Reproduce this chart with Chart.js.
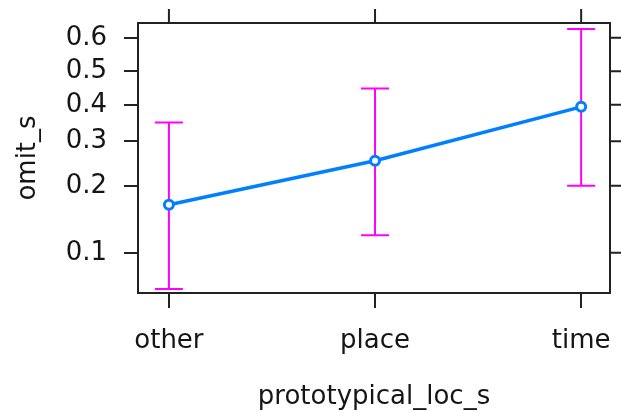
<!DOCTYPE html>
<html>
<head>
<meta charset="utf-8">
<script src="https://cdn.jsdelivr.net/npm/chart.js@4"></script>
<style>
  html, body { margin: 0; padding: 0; background: #fff; }
  #wrap { width: 621px; height: 413px; }
</style>
</head>
<body>
<div id="wrap"><canvas id="myChart" width="621" height="413"></canvas></div>
<script>
// data (logit scale)
const categories = ['other', 'place', 'time'];
const fitValues = [0.166, 0.253, 0.394];
const lowerValues = [0.067, 0.121, 0.200];
const upperValues = [0.350, 0.448, 0.625];
const yTicks = [0.1, 0.2, 0.3, 0.4, 0.5, 0.6];

const logit = p => Math.log(p / (1 - p));
const expit = z => 1 / (1 + Math.exp(-z));

// logit y axis, the way the effects package draws probabilities
class LogitScale extends Chart.LinearScale {
    configure() {
        super.configure();
        this._lo = logit(this.min);
        this._hi = logit(this.max);
    }
    getPixelForValue(v) {
        return this.getPixelForDecimal((logit(v) - this._lo) / (this._hi - this._lo));
    }
    getValueForPixel(px) {
        const d = this.getDecimalForPixel(px);
        return expit(this._lo + d * (this._hi - this._lo));
    }
}
LogitScale.id = 'logit';
LogitScale.defaults = {};
Chart.register(LogitScale);

const inkColor = '#151515';
const fontFam = '"DejaVu Sans", sans-serif';

// box round the panel + ticks on the top and right side (lattice style)
const panelBox = {
    id: 'panelBox',
    afterDraw(chart) {
        const { ctx, chartArea, scales } = chart;
        ctx.save();
        ctx.strokeStyle = '#222';
        ctx.lineWidth = 2;
        ctx.strokeRect(chartArea.left, chartArea.top, chartArea.right - chartArea.left, chartArea.bottom - chartArea.top);
        ctx.beginPath();
        scales.x.ticks.forEach(t => {
            const x = scales.x.getPixelForValue(t.value);
            ctx.moveTo(x, chartArea.top);
            ctx.lineTo(x, chartArea.top - 14);
        });
        scales.y.ticks.forEach(t => {
            const y = scales.y.getPixelForValue(t.value);
            ctx.moveTo(chartArea.right, y);
            ctx.lineTo(chartArea.right + 14, y);
        });
        ctx.stroke();
        ctx.restore();
    }
};

// confidence bars
const errorBars = {
    id: 'errorBars',
    beforeDatasetsDraw(chart) {
        const { ctx, scales } = chart;
        ctx.save();
        ctx.strokeStyle = '#FF00FF';
        ctx.lineWidth = 2;
        categories.forEach((c, i) => {
            const x = scales.x.getPixelForValue(i);
            const yLo = scales.y.getPixelForValue(lowerValues[i]);
            const yHi = scales.y.getPixelForValue(upperValues[i]);
            ctx.beginPath();
            ctx.moveTo(x, yLo); ctx.lineTo(x, yHi);
            ctx.moveTo(x - 14, yLo); ctx.lineTo(x + 14, yLo);
            ctx.moveTo(x - 14, yHi); ctx.lineTo(x + 14, yHi);
            ctx.stroke();
        });
        ctx.restore();
    }
};

let ctx = document.getElementById('myChart').getContext('2d');

let chart = new Chart(ctx, {
    type: 'line',
    data: {
        datasets: [{
            data: fitValues.map((v, i) => ({ x: i, y: v })),
            borderColor: '#0080FF',
            borderWidth: 3.5,
            pointRadius: 4.5,
            pointBorderWidth: 3,
            pointBackgroundColor: '#fff',
            pointBorderColor: '#0080FF',
            tension: 0
        }]
    },
    options: {
        responsive: false,
        animation: false,
        layout: { padding: { top: 23, right: 11, left: 0, bottom: 0 } },
        plugins: { legend: { display: false }, tooltip: { enabled: false } },
        scales: {
            x: {
                type: 'linear',
                min: -0.15,
                max: 2.14,
                afterBuildTicks: s => { s.ticks = categories.map((c, i) => ({ value: i })); },
                afterFit: s => { s.height = 120; s.paddingLeft = 0; s.paddingRight = 0; },
                border: { display: false },
                grid: { drawOnChartArea: false, tickLength: 15, color: '#222', lineWidth: 2 },
                ticks: {
                    padding: 18,
                    color: inkColor,
                    font: { family: fontFam, size: 26 },
                    callback: v => categories[v]
                },
                title: {
                    display: true,
                    text: 'prototypical_loc_s',
                    color: inkColor,
                    font: { family: fontFam, size: 26 },
                    padding: { top: 0, bottom: 0 }
                }
            },
            y: {
                type: 'logit',
                min: 0.064,
                max: 0.642,
                afterBuildTicks: s => { s.ticks = yTicks.map(v => ({ value: v })); },
                afterFit: s => { s.width = 138; s.paddingTop = 0; s.paddingBottom = 0; },
                border: { display: false },
                grid: { drawOnChartArea: false, tickLength: 14, color: '#222', lineWidth: 2 },
                ticks: {
                    padding: 17,
                    color: inkColor,
                    font: { family: fontFam, size: 26 },
                    callback: v => String(v)
                },
                title: {
                    display: true,
                    text: 'omit_s',
                    color: inkColor,
                    font: { family: fontFam, size: 26 },
                    padding: { top: 13, bottom: 0 }
                }
            }
        }
    },
    plugins: [errorBars, panelBox]
});
</script>
</body>
</html>
